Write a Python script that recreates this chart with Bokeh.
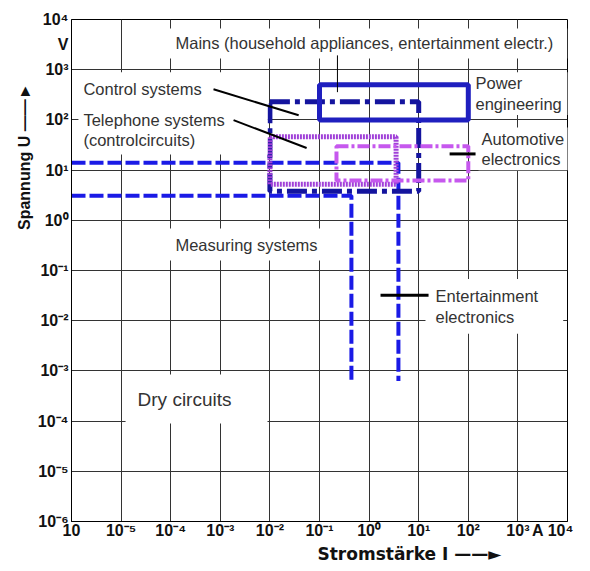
from bokeh.plotting import figure
from bokeh.models import FixedTicker, Label, Title
from bokeh.embed import file_html
from bokeh.resources import INLINE

# ---------------- data ----------------
decades = [1e-6, 1e-5, 1e-4, 1e-3, 1e-2, 1e-1, 1e0, 1e1, 1e2, 1e3, 1e4]
# tick-label positions (the "A" unit label and the crowded 10^4 sit just left of the last decade)
x_tick_values = [1e-6, 1e-5, 1e-4, 1e-3, 1e-2, 1e-1, 1e0, 1e1, 1e2, 1e3, 10 ** 3.4, 10 ** 3.86]
x_tick_labels = ["10", "10⁻⁵", "10⁻⁴", "10⁻³", "10⁻²", "10⁻¹", "10⁰", "10¹",
                 "10²", "10³", "A", "10⁴"]
y_tick_values = decades + [10 ** 3.5]
y_tick_labels = ["10⁻⁶", "10⁻⁵", "10⁻⁴", "10⁻³", "10⁻²", "10⁻¹", "10⁰", "10¹",
                 "10²", "10³", "10⁴", "V"]

# areas: current range [A], voltage range [V]
power_I = [0.1, 100]
power_U = [100, 500]
control_I = [0.01, 10]
control_U = [3.8, 230]
telephone_I = [0.01, 3.5]
telephone_U = [5.2, 46]
automotive_I = [0.22, 100]
automotive_U = [6.2, 30]
measuring_upper_I = [1e-6, 3.9, 3.9]
measuring_upper_U = [14, 14, 6.3e-4]
measuring_lower_I = [1e-6, 0.44, 0.44]
measuring_lower_U = [3.1, 3.1, 6.3e-4]

# leader lines
mains_leader_I = [0.23, 0.23]
mains_leader_U = [1930, 357]
control_leader_I = [7.3e-4, 0.038]
control_leader_U = [408, 124]
telephone_leader_I = [1.85e-3, 0.055]
telephone_leader_U = [99, 27.5]
automotive_leader_I = [42, 140]
automotive_leader_U = [21, 21]
entertainment_leader_I = [1.7, 15.8]
entertainment_leader_U = [0.032, 0.032]

# ---------------- figure ----------------
p = figure(width=574, height=563, x_axis_type="log", y_axis_type="log",
           x_range=(1e-6, 1e4), y_range=(1e-6, 1e4),
           output_backend="svg", toolbar_location=None,
           min_border_left=71, min_border_right=7, min_border_top=19,
           min_border_bottom=40)
p.outline_line_color = "black"
p.outline_line_width = 1

p.xaxis.ticker = FixedTicker(ticks=x_tick_values)
p.yaxis.ticker = FixedTicker(ticks=y_tick_values)
p.xaxis.major_label_overrides = dict(zip(x_tick_values, x_tick_labels))
p.yaxis.major_label_overrides = dict(zip(y_tick_values, y_tick_labels))
p.xgrid.ticker = FixedTicker(ticks=decades)
p.ygrid.ticker = FixedTicker(ticks=decades)
for g in (p.xgrid, p.ygrid):
    g.grid_line_color = "#333333"
    g.grid_line_width = 1
    g.grid_line_alpha = 1.0

for ax in (p.xaxis, p.yaxis):
    ax.major_tick_line_color = None
    ax.minor_tick_line_color = None
    ax.major_tick_out = 0
    ax.major_tick_in = 0
    ax.minor_tick_out = 0
    ax.axis_line_color = "black"
    ax.major_label_text_font = "Liberation Sans"
    ax.major_label_text_font_style = "bold"
    ax.major_label_text_font_size = "16px"
    ax.major_label_text_color = "#111111"
p.xaxis.major_label_standoff = 0
p.yaxis.major_label_standoff = 3

# axis titles (side-panel titles so they can be placed off-centre)
p.add_layout(Title(text="Stromstärke I ——►", align="left", offset=246, standoff=0,
                   text_font="DejaVu Sans", text_font_style="bold",
                   text_font_size="17px", text_color="#111111"), "below")
p.add_layout(Title(text="Spannung U ——►", align="right", offset=64, standoff=4,
                   text_font="Liberation Sans", text_font_style="bold",
                   text_font_size="16px", text_color="#111111"), "left")

# ---------------- areas ----------------
p.line(measuring_upper_I, measuring_upper_U, line_color="#1a1ae6", line_width=4,
       line_dash="14 4")
p.line(measuring_lower_I, measuring_lower_U, line_color="#1a1ae6", line_width=4,
       line_dash="14 4")
p.quad(left=[control_I[0]], right=[control_I[1]], bottom=[control_U[0]], top=[control_U[1]],
       fill_color=None, line_color="#14149e", line_width=5, line_dash="20 5 5 5")
p.quad(left=[telephone_I[0]], right=[telephone_I[1]], bottom=[telephone_U[0]], top=[telephone_U[1]],
       fill_color=None, line_color="#a040d8", line_width=5, line_dash="2 1")
p.quad(left=[automotive_I[0]], right=[automotive_I[1]], bottom=[automotive_U[0]], top=[automotive_U[1]],
       fill_color=None, line_color="#c658ee", line_width=4, line_dash="12 3 3 3")
p.quad(left=[power_I[0]], right=[power_I[1]], bottom=[power_U[0]], top=[power_U[1]],
       fill_color=None, line_color="#1f1fbf", line_width=5)

# ---------------- leader lines ----------------
p.line(mains_leader_I, mains_leader_U, line_color="black", line_width=1, level="overlay")
p.line(control_leader_I, control_leader_U, line_color="black", line_width=2, level="overlay")
p.line(telephone_leader_I, telephone_leader_U, line_color="black", line_width=2, level="overlay")
p.line(automotive_leader_I, automotive_leader_U, line_color="black", line_width=3, level="overlay")
p.line(entertainment_leader_I, entertainment_leader_U, line_color="black", line_width=3, level="overlay")

# ---------------- labels (white boxes hide the grid behind them) ----------------
def lab(text, x, y, size="16.5px", padx=(0, 0), pady=0):
    l, r = padx
    p.add_layout(Label(x=x, y=y, text=text, text_font="Liberation Sans",
                       text_font_size=size, text_color="#333333",
                       text_align="left", text_baseline="middle",
                       text_line_height=1.15,
                       background_fill_color="white",
                       padding=dict(left=l, right=r, top=pady, bottom=pady)))

lab("Mains (household appliances, entertainment electr.)", 7.85e-5, 3340, padx=(10, 14), pady=6)
lab("Control systems", 1.38e-6, 408, padx=(5, 67), pady=8)
lab("Telephone systems\n(controlcircuits)", 1.38e-6, 62.8, padx=(5, 43), pady=5)
lab("Power\nengineering", 121.6, 333, padx=(3, 6), pady=2)
lab("Automotive\nelectronics", 160.7, 26.4, padx=(3, 4), pady=2)
lab("Measuring systems", 8.6e-5, 0.328, padx=(8, 4), pady=7)
lab("Entertainment\nelectronics", 13.7, 0.0193, padx=(10, 25), pady=8)
lab("Dry circuits", 1.23e-5, 2.75e-4, size="19px", padx=(12, 36), pady=14)

open("out.html", "w").write(file_html(p, INLINE))
